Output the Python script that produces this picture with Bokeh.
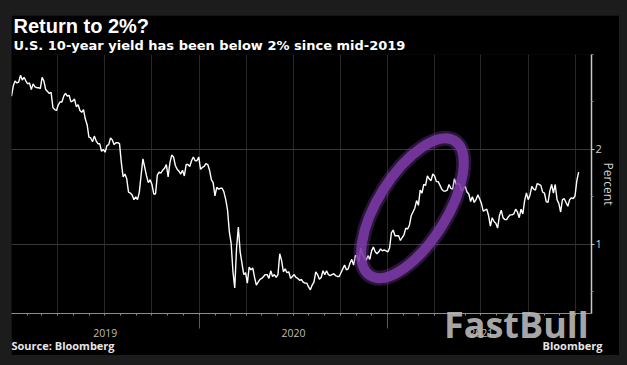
import pandas as pd
from bokeh.plotting import figure
from bokeh.models import Range1d, FixedTicker, LinearAxis, Title
from bokeh.embed import file_html
from bokeh.resources import INLINE

# ---------------- data ----------------
title_text = "Return to 2%?"
subtitle_text = "U.S. 10-year yield has been below 2% since mid-2019"
source_text = "Source: Bloomberg"
logo_text = "Bloomberg"
watermark_text = "FastBull"
y_axis_label = "Percent"
year_labels = ["2019", "2020", "2021"]
y_major_ticks = [1, 2]
y_minor_ticks = [0.5, 1.5, 2.5, 3.0]
y_grid_values = [1, 2, 3]

# U.S. 10-year yield, two readings per week (mid-week, Friday), percent
yields_2019 = [
    2.56, 2.67, 2.72, 2.70, 2.71, 2.78, 2.73, 2.76, 2.72, 2.69,
    2.70, 2.63, 2.69, 2.66, 2.65, 2.65, 2.64, 2.76, 2.72, 2.63,
    2.61, 2.59, 2.60, 2.44, 2.42, 2.41, 2.47, 2.50, 2.50, 2.56,
    2.59, 2.56, 2.57, 2.50, 2.51, 2.53, 2.45, 2.47, 2.41, 2.39,
    2.42, 2.32, 2.26, 2.13, 2.12, 2.08, 2.14, 2.09, 2.06, 2.06,
    1.98, 2.00, 1.97, 2.04, 2.05, 2.12, 2.10, 2.05, 2.07, 2.07,
    2.06, 1.86, 1.71, 1.74, 1.69, 1.55, 1.54, 1.52, 1.47, 1.50,
    1.47, 1.55, 1.73, 1.90, 1.81, 1.72, 1.65, 1.68, 1.63, 1.53,
    1.53, 1.73, 1.76, 1.75, 1.78, 1.80, 1.84, 1.71, 1.86, 1.94,
    1.92, 1.83, 1.79, 1.77, 1.74, 1.78, 1.72, 1.84, 1.84, 1.82,
    1.88, 1.92, 1.88, 1.88,
]
yields_2020 = [
    1.92, 1.79, 1.81, 1.82, 1.85, 1.84, 1.78, 1.68, 1.65, 1.51,
    1.60, 1.58, 1.59, 1.59, 1.55, 1.47, 1.36, 1.13, 1.01, 0.71,
    0.54, 0.96, 1.18, 0.92, 0.80, 0.68, 0.70, 0.59, 0.76, 0.73,
    0.75, 0.65, 0.57, 0.60, 0.63, 0.64, 0.66, 0.68, 0.68, 0.64,
    0.72, 0.66, 0.68, 0.65, 0.68, 0.90, 0.83, 0.71, 0.74, 0.70,
    0.71, 0.64, 0.66, 0.68, 0.65, 0.64, 0.62, 0.63, 0.60, 0.59,
    0.59, 0.55, 0.52, 0.57, 0.60, 0.71, 0.68, 0.63, 0.65, 0.72,
    0.68, 0.72, 0.68, 0.67, 0.68, 0.69, 0.67, 0.66, 0.66, 0.70,
    0.74, 0.78, 0.73, 0.74, 0.80, 0.84, 0.78, 0.88, 0.88, 0.82,
    0.96, 0.89, 0.86, 0.83, 0.88, 0.84, 0.93, 0.97, 0.92, 0.90,
    0.92, 0.95, 0.93, 0.94, 0.93, 0.92,
]
yields_2021 = [
    0.96, 1.12, 1.15, 1.09, 1.09, 1.09, 1.04, 1.07, 1.10, 1.17,
    1.16, 1.20, 1.30, 1.34, 1.38, 1.46, 1.41, 1.57, 1.54, 1.63,
    1.62, 1.72, 1.69, 1.67, 1.74, 1.72, 1.66, 1.66, 1.62, 1.58,
    1.56, 1.56, 1.57, 1.63, 1.59, 1.58, 1.69, 1.63, 1.64, 1.63,
    1.56, 1.59, 1.61, 1.55, 1.53, 1.45, 1.50, 1.44, 1.47, 1.52,
    1.48, 1.43, 1.35, 1.36, 1.37, 1.30, 1.19, 1.28, 1.24, 1.22,
    1.17, 1.30, 1.36, 1.28, 1.26, 1.26, 1.29, 1.31, 1.31, 1.32,
    1.37, 1.34, 1.28, 1.37, 1.32, 1.46, 1.54, 1.47, 1.52, 1.61,
    1.58, 1.57, 1.64, 1.63, 1.62, 1.55, 1.54, 1.45, 1.44, 1.56,
    1.63, 1.54, 1.63, 1.47, 1.43, 1.34, 1.47, 1.48, 1.44, 1.40,
    1.47, 1.49, 1.48, 1.51,
]
yields_2022 = [1.67, 1.76]

first_reading = "2019-01-01"
last_reading = "2022-01-07"
x_start = "2019-01-01"
x_end = "2022-02-01"
y_start, y_end = 0.27, 3.0

# annotation ring (highlights the late-2020 / early-2021 climb)
ring_date = "2021-02-18"
ring_value = 1.38

# where footer texts sit along the time axis
source_at = "2019-04-09"
logo_at = "2021-12-26"
watermark_at = "2021-09-08"

# ---------------- derived ----------------
yields = yields_2019 + yields_2020 + yields_2021 + yields_2022
dates = pd.date_range(first_reading, last_reading, periods=len(yields))


def ms(ts):
    return float(pd.Timestamp(ts).value // 10**6)


month_ticks = [ms(d) for d in pd.date_range("2019-02-01", "2022-01-01", freq="MS")]
quarter_ticks = [ms(d) for d in pd.date_range("2019-04-01", "2022-01-01", freq="QS")]
year_bounds = [ms(f"{int(y) + 1}-01-01") for y in year_labels[:-1]]
mid_years = [ms(f"{y}-07-02") for y in year_labels]

# ---------------- figure ----------------
p = figure(
    frame_width=580, frame_height=259,
    x_axis_type="datetime", y_axis_location="right",
    x_range=Range1d(ms(x_start), ms(x_end)),
    y_range=Range1d(y_start, y_end),
    output_backend="svg", toolbar_location=None,
    min_border_left=0, min_border_right=27, min_border_top=30, min_border_bottom=40,
)
p.margin = (15, 0, 0, 11)
p.background_fill_color = "black"
p.border_fill_color = "black"
p.outline_line_color = None

# grid
p.ygrid.ticker = FixedTicker(ticks=y_grid_values)
p.ygrid.grid_line_color = "#383838"
p.xgrid.ticker = FixedTicker(ticks=quarter_ticks)
p.xgrid.grid_line_color = "#282828"

# right axis
ya = p.yaxis[0]
ya.ticker = FixedTicker(ticks=y_major_ticks, minor_ticks=y_minor_ticks)
ya.axis_line_color = "#c8c8c8"
ya.axis_line_width = 1.5
ya.major_tick_line_color = "#c8c8c8"
ya.major_tick_in = 0
ya.major_tick_out = 3
ya.minor_tick_line_color = "#808080"
ya.minor_tick_in = 0
ya.minor_tick_out = 2
ya.major_label_text_color = "#d0d0d0"
ya.major_label_text_font = "Open Sans"
ya.major_label_text_font_size = "11px"
ya.major_label_standoff = 1
ya.axis_label = y_axis_label
ya.axis_label_text_color = "#d0d0d0"
ya.axis_label_text_font = "Open Sans"
ya.axis_label_text_font_size = "12px"
ya.axis_label_text_font_style = "normal"
ya.axis_label_standoff = -5

# bottom axis: line + monthly ticks
xa = p.xaxis[0]
xa.ticker = FixedTicker(ticks=month_ticks, minor_ticks=[])
xa.axis_line_color = "#8c8c8c"
xa.major_tick_line_color = "#8c8c8c"
xa.major_tick_in = 0
xa.major_tick_out = 2
xa.major_label_text_color = None
xa.major_label_text_font_size = "8px"
xa.major_label_standoff = 0

# second bottom axis: year labels with separators
xb = LinearAxis(
    ticker=FixedTicker(ticks=mid_years, minor_ticks=year_bounds),
    major_label_overrides={t: lab for t, lab in zip(mid_years, year_labels)},
)
xb.axis_line_color = None
xb.major_tick_line_color = None
xb.major_tick_out = 0
xb.major_tick_in = 0
xb.minor_tick_line_color = "#5a5a5a"
xb.minor_tick_in = 0
xb.minor_tick_out = 13
xb.major_label_text_color = "#bdbdbd"
xb.major_label_text_font = "Open Sans"
xb.major_label_text_font_size = "10.5px"
xb.major_label_standoff = 0
p.add_layout(xb, "below")

# footer row: source note and logo text
foot_ticks = [ms(source_at), ms(logo_at)]
xf = LinearAxis(
    ticker=FixedTicker(ticks=foot_ticks, minor_ticks=[]),
    major_label_overrides={foot_ticks[0]: source_text, foot_ticks[1]: logo_text},
)
xf.axis_line_color = None
xf.major_tick_line_color = None
xf.major_tick_out = 0
xf.major_tick_in = 0
xf.major_label_text_color = "#e6e6e6"
xf.major_label_text_font = "Open Sans"
xf.major_label_text_font_size = "11px"
xf.major_label_text_font_style = "bold"
xf.major_label_standoff = -2
p.add_layout(xf, "below")

# watermark, drawn over the axis area
wm_tick = [ms(watermark_at)]
xw = LinearAxis(
    ticker=FixedTicker(ticks=wm_tick, minor_ticks=[]),
    major_label_overrides={wm_tick[0]: watermark_text},
)
xw.axis_line_color = None
xw.major_tick_line_color = None
xw.major_tick_out = 0
xw.major_tick_in = 0
xw.major_label_text_color = "#b8b8b8"
xw.major_label_text_alpha = 0.92
xw.major_label_text_font = "Open Sans"
xw.major_label_text_font_size = "36px"
xw.major_label_text_font_style = "bold"
xw.major_label_standoff = -56
p.add_layout(xw, "below")

# titles
sub = Title(text=subtitle_text, align="left", offset=2, standoff=3,
            text_color="white", text_font="DejaVu Sans",
            text_font_size="13px", text_font_style="bold")
main = Title(text=title_text, align="left", offset=2, standoff=-5,
             text_color="white", text_font="Liberation Sans",
             text_font_size="20px", text_font_style="bold")
p.add_layout(sub, "above")
p.add_layout(main, "above")

# data line
p.line(dates, yields, line_color="white", line_width=1.4)

# purple ring
p.ellipse(x=[ms(ring_date)], y=[ring_value], width=159, height=69,
          angle=58, angle_units="deg", width_units="screen", height_units="screen",
          fill_color=None, line_color="#8a45b8", line_width=15, line_alpha=0.3)
p.ellipse(x=[ms(ring_date)], y=[ring_value], width=159, height=69,
          angle=58, angle_units="deg", width_units="screen", height_units="screen",
          fill_color=None, line_color="#7b3aa6", line_width=10, line_alpha=0.88)

html = file_html(p, INLINE)
html = html.replace("</head>", "<style>html,body{background:#1c1c1c;}</style></head>", 1)
open("out.html", "w").write(html)
